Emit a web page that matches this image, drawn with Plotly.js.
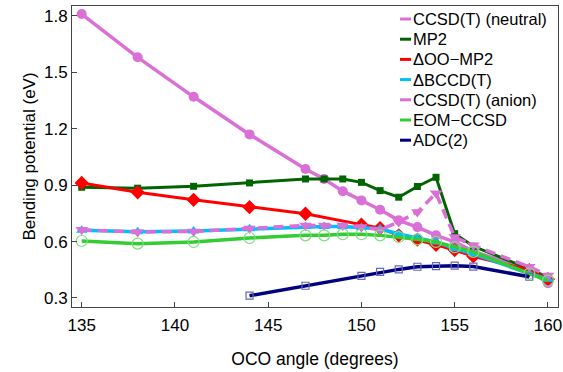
<!DOCTYPE html>
<html>
<head>
<meta charset="utf-8">
<script src="https://cdn.plot.ly/plotly-3.0.1.min.js"></script>
<style>html,body{margin:0;padding:0;background:#fff;}#chart{width:563px;height:372px;}</style>
</head>
<body>
<div id="chart"></div>
<script>
// ---- data ----
const seriesNames = ["CCSD(T) (neutral)", "MP2", "\u0394OO\u2212MP2", "\u0394BCCD(T)", "CCSD(T) (anion)", "EOM\u2212CCSD", "ADC(2)"];

const xNeutral = [135,138,141,144,147,148,149,150,151,152,153,154,155,156,159,160];
const yNeutral = [1.81,1.58,1.37,1.17,0.986,0.933,0.868,0.819,0.769,0.713,0.677,0.633,0.598,0.548,0.45,0.378];

const xMP2 = [135,138,141,144,147,148,149,150,151,152,153,154,155,156,159,160];
const yMP2 = [0.889,0.884,0.894,0.912,0.933,0.933,0.933,0.915,0.871,0.836,0.893,0.942,0.642,0.575,0.455,0.41];

const xOO = [135,138,141,144,147,150,151,152,153,154,155,156,159,160];
const yOO = [0.912,0.862,0.822,0.783,0.748,0.69,0.672,0.633,0.61,0.583,0.555,0.522,0.448,0.40];

const xBCCD = [135,138,141,144,147,148,149,150,151,152,153,154,155,156,159,160];
const yBCCD = [0.66,0.652,0.656,0.668,0.68,0.68,0.68,0.675,0.668,0.64,0.62,0.598,0.563,0.535,0.43,0.40];

const xAnion = [135,138,141,144,147,148,149,150,151,152,153,154,155,156,159,160];
const yAnion = [0.663,0.651,0.654,0.669,0.686,0.686,0.686,0.677,0.663,0.704,0.757,0.857,0.624,0.58,0.466,0.42];

const xEOM = [135,138,141,144,147,148,149,150,151,152,153,154,155,156,159,160];
const yEOM = [0.603,0.589,0.598,0.619,0.633,0.633,0.639,0.639,0.633,0.624,0.612,0.598,0.57,0.545,0.43,0.392];

const xADC = [144,147,150,151,152,153,154,155,156,159];
const yADC = [0.312,0.365,0.418,0.439,0.452,0.466,0.469,0.472,0.467,0.413];

const xTicks = [135,140,145,150,155,160];
const yTicks = [0.3,0.6,0.9,1.2,1.5,1.8];
const yTickText = ["0.3","0.6","0.9","1.2","1.5","1.8"];

// ---- styles ----
const colors = ["#DA70D6","#006400","#FF0000","#00BFFF","#DA70D6","#32CD32","#000080"];
const styles = [
  {dash:"solid", w:3.5, sym:"circle", size:10, mcol:"#DA70D6"},
  {dash:"solid", w:3, sym:"square", size:7, mcol:"#006400"},
  {dash:"solid", w:3, sym:"diamond", size:11, mcol:"#FF0000"},
  {dash:"solid", w:3.5, sym:"triangle-up", size:10, mcol:"#00BFFF"},
  {dash:"10px,6px", w:3.5, sym:"triangle-down", size:11, mcol:"#DA70D6"},
  {dash:"solid", w:3.5, sym:"circle-open", size:11, mcol:"#7FDD7F"},
  {dash:"solid", w:3.5, sym:"square-open", size:7, mcol:"#6666BB"}
];
const xs = [xNeutral,xMP2,xOO,xBCCD,xAnion,xEOM,xADC];
const ys = [yNeutral,yMP2,yOO,yBCCD,yAnion,yEOM,yADC];

const traces = seriesNames.map((n,i)=>({
  x: xs[i], y: ys[i], name: n, type: "scatter", mode: "lines+markers",
  line: {color: colors[i], width: styles[i].w, dash: styles[i].dash},
  marker: {symbol: styles[i].sym, size: styles[i].size, color: styles[i].mcol,
           line: {width: styles[i].sym.indexOf("open")>=0 ? 1.2 : 0, color: styles[i].mcol}},
  showlegend: false
}));

// custom compact legend
const legTop = 19, legStep = 20.2;
const plotTop = 6, plotBottom = 307, plotLeft = 72, plotRight = 558;
const ph = plotBottom - plotTop, pw = plotRight - plotLeft;
const shapes = [], annotations = [];
seriesNames.forEach((n,i)=>{
  const ypx = legTop + i*legStep;
  const yp = (plotBottom - ypx)/ph;
  shapes.push({type:"line", xref:"paper", yref:"paper",
    x0:(400-plotLeft)/pw, x1:(411-plotLeft)/pw, y0:yp, y1:yp,
    line:{color:colors[i], width:3}});
  annotations.push({xref:"paper", yref:"paper", x:(411-plotLeft)/pw, y:yp,
    xanchor:"left", yanchor:"middle", showarrow:false, text:n,
    font:{family:"Liberation Sans, Arial, sans-serif", size:16.5, color:"#000"}});
});

const layout = {
  width: 563, height: 372,
  margin: {l: plotLeft, r: 563-plotRight, t: plotTop, b: 372-plotBottom},
  paper_bgcolor: "#fff", plot_bgcolor: "#fff",
  font: {family: "Liberation Sans, Arial, sans-serif", size: 17, color: "#000"},
  xaxis: {
    range: [134.48, 160.54], tickvals: xTicks, ticktext: xTicks.map(String),
    showgrid: false, zeroline: false, showline: true, mirror: true,
    linecolor: "#444", linewidth: 1, ticks: "inside", ticklen: 5, tickcolor: "#444",
    tickfont: {size: 17}, ticklabelstandoff: 3,
    title: {text: "OCO angle (degrees)", font: {size: 17.5}, standoff: 18}
  },
  yaxis: {
    range: [0.252, 1.853], tickvals: yTicks, ticktext: yTickText,
    showgrid: false, zeroline: false, showline: true, mirror: true,
    linecolor: "#444", linewidth: 1, ticks: "inside", ticklen: 5, tickcolor: "#444",
    tickfont: {size: 17},
    title: {text: "Bending potential (eV)", font: {size: 17}, standoff: 4}
  },
  shapes: shapes, annotations: annotations, showlegend: false
};

Plotly.newPlot("chart", traces, layout, {displayModeBar: false, staticPlot: true});
</script>
</body>
</html>
